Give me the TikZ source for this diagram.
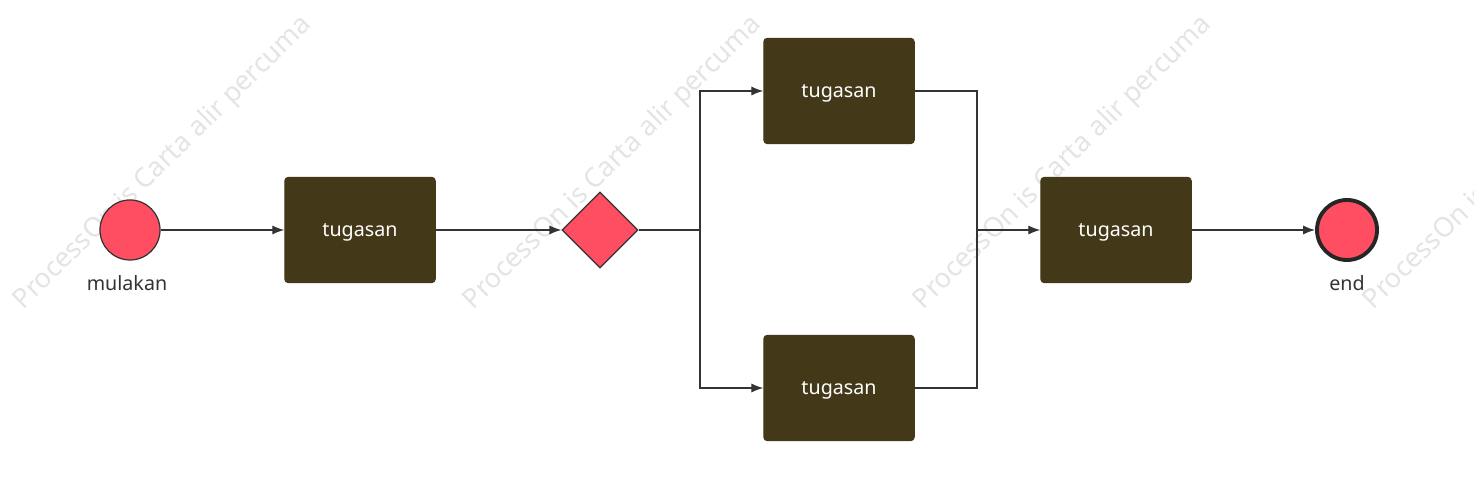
\documentclass[tikz,border=0pt]{standalone}
\usepackage{fontspec}
\setmainfont{Noto Sans}
\usetikzlibrary{arrows.meta,shapes.geometric}
\definecolor{boxc}{HTML}{433817}
\definecolor{redc}{HTML}{FF4D62}
\definecolor{wm}{HTML}{E4E4E4}
\begin{document}
\begin{tikzpicture}[x=0.01cm,y=-0.01cm,
  task/.style={draw=boxc,fill=boxc,rounded corners=1pt,minimum width=1.5cm,minimum height=1.05cm,text=white,font=\fontsize{5.6pt}{6.5pt}\selectfont,text depth=0pt},
  conn/.style={draw=black!80,line width=0.35pt,-{Latex[length=3.4pt,width=2.6pt]}},
  line/.style={draw=black!80,line width=0.35pt},
  lab/.style={font=\fontsize{5.6pt}{6.5pt}\selectfont,text=black!80},
  wmk/.style={text=wm,font=\fontsize{7.7pt}{9pt}\selectfont,rotate=44.5,anchor=south west,inner sep=0pt}]
\useasboundingbox (0,0) rectangle (1474,477);
\foreach \x in {28,478,928,1378} \node[wmk] at (\x,316) {ProcessOn is Carta alir percuma};
\node[circle,draw=black!80,line width=0.35pt,fill=redc,minimum size=0.6cm,inner sep=0pt] (s) at (130,230) {};
\node[lab] (sl) at (127,283) {mulakan};
\node[task] (t1) at (360,230) {tugasan};
\node[diamond,draw=black!80,line width=0.35pt,fill=redc,minimum width=0.76cm,minimum height=0.76cm,inner sep=0pt] (g) at (600,230) {};
\node[task] (t2) at (839,91) {tugasan};
\node[task] (t3) at (839,388) {tugasan};
\node[task] (t4) at (1116,230) {tugasan};
\node[circle,draw=black!85,line width=1.1pt,fill=redc,minimum size=0.6cm,inner sep=0pt] (e) at (1347,230) {};
\node[lab] (el) at (1347,283) {end};
\coordinate (j1) at (700,230);
\coordinate (j2) at (977,230);
\draw[conn] (s) -- (t1);
\draw[conn] (t1) -- (g);
\draw[line] (g) -- (j1);
\draw[conn] (j1) |- (t2);
\draw[conn] (j1) |- (t3);
\draw[line] (t2) -| (j2);
\draw[line] (t3) -| (j2);
\draw[conn] (j2) -- (t4);
\draw[conn] (t4) -- (e);
\end{tikzpicture}
\end{document}
